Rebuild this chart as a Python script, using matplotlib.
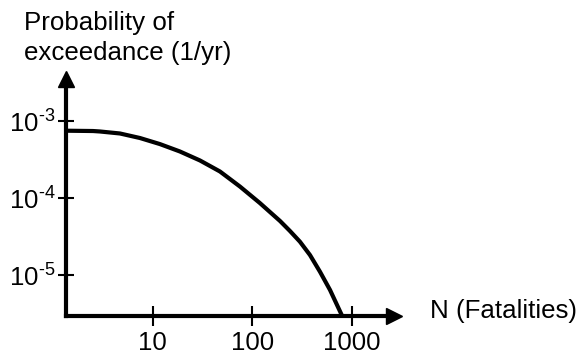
import matplotlib
matplotlib.use('Agg')
import matplotlib.pyplot as plt

plt.rcParams['font.family'] = ['Liberation Sans', 'DejaVu Sans']
plt.rcParams['mathtext.fontset'] = 'custom'
plt.rcParams['mathtext.rm'] = 'Liberation Sans'

# F-N curve
fatalities = [1.343, 2.51, 2.94, 4.68, 7.43, 11.8, 18.7, 29.8, 47.3, 75.2,
              119, 190, 239, 301, 380, 479, 604, 726, 796]
prob = [7.55e-4, 7.48e-4, 7.38e-4, 6.95e-4, 6.07e-4, 5.06e-4, 4.06e-4,
        3.10e-4, 2.23e-4, 1.42e-4, 8.69e-5, 5.07e-5, 3.76e-5, 2.73e-5,
        1.83e-5, 1.11e-5, 6.44e-6, 3.87e-6, 3.0e-6]

x_ticks = [10, 100, 1000]
x_tick_labels = ['10', '100', '1000']
y_ticks = [1e-5, 1e-4, 1e-3]
y_tick_labels = [r'$\mathregular{10^{\text{-}5}}$', r'$\mathregular{10^{\text{-}4}}$',
                 r'$\mathregular{10^{\text{-}3}}$']

fs = 18.6

fig = plt.figure(figsize=(5.8, 3.54), dpi=100)
ax = fig.add_axes([66 / 580, 1 - 315.5 / 354, (393.5 - 66) / 580, (315.5 - 78.5) / 354])

ax.plot(fatalities, prob, color='black', linewidth=3, solid_capstyle='butt')
ax.set_xscale('log')
ax.set_yscale('log')
ax.set_xlim(1.343, 2624)
ax.set_ylim(3.0e-6, 3.6e-3)

for side in ['top', 'right']:
    ax.spines[side].set_visible(False)
for side in ['left', 'bottom']:
    ax.spines[side].set_linewidth(3)

# arrow heads
ax.plot([0], [1], marker='^', markersize=12, color='black',
        transform=ax.transAxes, clip_on=False)
ax.plot([1], [0], marker='>', markersize=12, color='black',
        transform=ax.transAxes, clip_on=False)

ax.set_xticks(x_ticks)
ax.set_xticklabels(x_tick_labels)
ax.set_yticks(y_ticks)
ax.set_yticklabels(y_tick_labels)
ax.minorticks_off()
ax.tick_params(axis='x', direction='inout', length=14, width=1.5, labelsize=fs, pad=4)
ax.tick_params(axis='y', direction='inout', length=11, width=1.5, labelsize=fs, pad=2)

fig.text(24 / 580, 1 - 30 / 354, 'Probability of', fontsize=fs, va='baseline')
fig.text(24 / 580, 1 - 60 / 354, 'exceedance (1/yr)', fontsize=fs, va='baseline')
fig.text(430 / 580, 1 - 318 / 354, 'N (Fatalities)', fontsize=fs, va='baseline')

fig.savefig('out.png', dpi=100)
